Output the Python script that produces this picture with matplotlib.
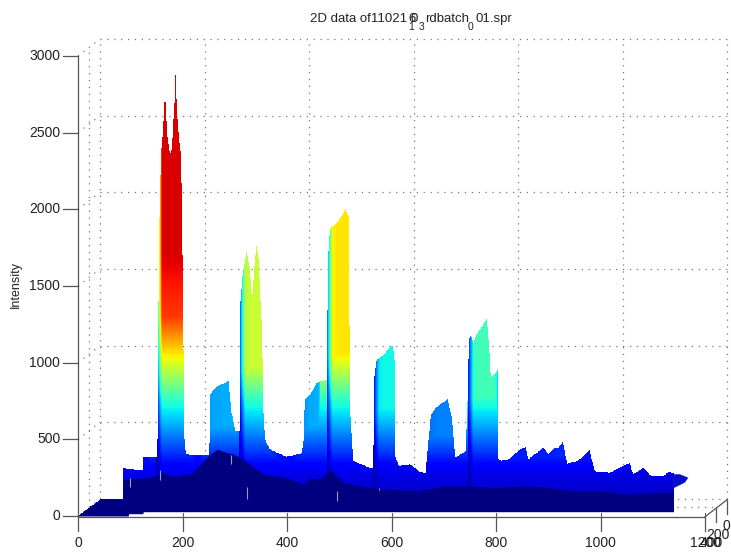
import numpy as np
import matplotlib
matplotlib.use("Agg")
import matplotlib.pyplot as plt

plt.rcParams['font.family'] = ['Liberation Sans', 'DejaVu Sans']

#top outline of the surface
top_x = [0, 43, 86, 87, 124, 125, 150, 152, 153, 155, 157, 159, 161, 165, 166.5, 168, 172, 176, 180, 184, 187, 189, 193, 197, 199, 201, 203, 204, 206,
         215, 250, 252, 253, 266, 275, 288, 294, 301, 309, 311, 316, 323, 329, 333, 341, 346, 352, 355, 358, 367, 399, 428, 432, 434, 447, 457, 476,
         478, 480, 484, 495, 505, 512, 518, 520, 521, 527, 558, 565, 567, 572, 585, 597, 603, 606, 607, 614, 636, 652, 665, 670, 675, 685, 707, 715, 722,
         742, 747, 748, 752, 757, 765, 772, 782, 787, 790, 795, 803, 805, 810, 825, 846, 857, 862, 891, 900, 913, 920, 928, 936, 957, 979, 989, 1018,
         1056, 1062, 1082, 1098, 1120, 1130, 1152, 1168, 1161.5, 1142, 1138]
top_h = [0, 109, 109, 309, 300, 387, 380, 500, 1000, 1800, 2100, 2350, 2450, 2650, 2800, 2650, 2450, 2360, 2400, 2650, 2920, 2650, 2480, 2350, 2000, 1400, 760, 500, 408,
         396, 396, 500, 793, 848, 858, 880, 674, 554, 554, 1400, 1600, 1730, 1600, 1400, 1770, 1670, 1210, 674, 500, 435, 387, 408, 500, 760, 804, 870, 890,
         1500, 1800, 1880, 1910, 1960, 2000, 1950, 1000, 674, 359, 315, 315, 900, 1020, 1050, 1100, 1110, 1000, 390, 326, 337, 293, 278, 456, 652, 707, 760, 652, 380,
         424, 891, 1150, 1180, 1130, 1200, 1230, 1285, 1100, 900, 920, 950, 370, 359, 370, 435, 450, 370, 446, 402, 446, 446, 483, 343, 359, 430, 293, 283,
         348, 272, 315, 257, 257, 287, 272, 250, 218, 185, 170]

#height of the dark front face
base_x = [0, 43, 87, 100, 151, 164, 176, 215, 253, 266, 297, 316, 355, 399, 431, 444, 463, 482, 508, 558, 600, 650, 700, 750, 800, 850, 900, 950, 1000, 1050, 1100, 1138]
base_h = [0, 109, 239, 239, 261, 283, 261, 272, 402, 435, 402, 370, 272, 250, 206, 250, 239, 304, 217, 185, 173, 163, 196, 196, 185, 196, 185, 163, 163, 141, 152, 152]

#lower edge of the surface
low_x = [0, 96, 97, 124, 125, 1138]
low_h = [0, 0, 15, 15, 28, 28]

#colour value seen at a given height
level_h = [0, 300, 450, 750, 1000, 1300, 1700]
level_v = [0.03, 0.1, 0.2, 0.4, 0.62, 0.85, 0.92]

#left sides of the tall peaks stay dark
edge_x = [152, 311, 478, 567, 748]

#small pale marks on the front face
mark_x = [100, 156, 293, 324, 495, 576]
mark_lo = [190, 235, 340, 109, 97, 170]
mark_hi = [245, 300, 400, 190, 160, 185]

xtick_vals = [0, 200, 400, 600, 800, 1000]
ytick_vals = [0, 500, 1000, 1500, 2000, 2500, 3000]

W, H = 731, 554
fig = plt.figure(figsize=(W/100, H/100), dpi=100)
ax = fig.add_axes([78/W, 1-516/H, 627/W, 460/H])
ax.set_xlim(0, 1200)
ax.set_ylim(0, 3000)
ax.axis('off')

#offset from the front of the box to the back wall
dx = 22/0.5225
dy = 17/0.1533
grid = dict(color='#777777', lw=0.9, ls=(0, (1, 4.5)), clip_on=False, zorder=1)

for v in ytick_vals:
    ax.plot([dx, 1200+dx], [v+dy, v+dy], **grid)
    ax.plot([0, dx], [v, v+dy], **grid)
for v in [0, 200, 400, 600, 800, 1000, 1200]:
    ax.plot([v+dx, v+dx], [dy, 3000+dy], **grid)
ax.plot([dx/2, dx/2], [dy/2, 3000+dy/2], **grid)
ax.plot([1200+dx/2-75, 1200+dx/2], [dy/2, dy/2], **grid)

#surface colours follow the height, capped by the highest top nearby
xs = np.arange(0, 1140, 0.5)
hs = np.arange(0, 3000, 4.0)
tops = np.interp(xs, top_x[:-3], top_h[:-3])
bases = np.interp(xs, base_x, base_h)
lows = np.interp(xs, low_x, low_h)
near = np.array([tops[max(i-30, 0):i+30].max() for i in range(len(xs))])
X, Y = np.meshgrid(xs, hs)
B = np.minimum(bases, tops)[None, :]
vals = np.minimum(np.interp(Y, level_h, level_v), (near/3000)[None, :])
shade = np.ones(len(xs))
for e in edge_x:
    left = (xs >= e-2) & (xs < e+9)
    shade[left] = 0.3+0.7*(xs[left]-e+2)/11
vals = vals*shade[None, :]
vals = np.ma.masked_where((Y > tops[None, :]) | (Y < lows[None, :]), vals)
ax.pcolormesh(X, Y, vals, cmap='jet', vmin=0, vmax=1, shading='nearest', rasterized=True, zorder=2)

#front face and the tail past the end of the base
ax.fill_between(xs, lows, np.minimum(bases, tops), color='#000080', lw=0, zorder=3)
ax.fill(top_x[-5:]+[top_x[-1]], top_h[-5:]+[top_h[-5]], color='#0a10c8', lw=0, zorder=2)
ax.vlines(mark_x, mark_lo, mark_hi, color='#8f9fc8', lw=0.8, zorder=4)

#axes
axis_c = '#555555'
txt = '#222222'
ax.plot([0, 0], [0, 3000], color=axis_c, lw=0.9, clip_on=False, zorder=5)
ax.plot([0, 1200], [-5, -5], color=axis_c, lw=0.9, clip_on=False, zorder=5)
ax.plot([1200, 1200+dx], [-5, dy-5], color=axis_c, lw=0.9, clip_on=False, zorder=5)
for v in xtick_vals+[1200]:
    ax.plot([v, v], [-95, -5], color=axis_c, lw=0.9, clip_on=False, zorder=5)
    ax.plot([v, v], [-5, 22], color=axis_c, lw=0.7, clip_on=False, zorder=5)
for v in ytick_vals:
    ax.plot([-29, 0], [v, v], color=axis_c, lw=0.9, clip_on=False, zorder=5)
    ax.text(-34, v, str(v), ha='right', va='center', fontsize=10, color=txt)
for v in xtick_vals:
    ax.text(v, -175, str(v), ha='center', va='center', fontsize=10, color=txt)
ax.plot([1200+dx/2]*2, [dy/2-5, dy/2-95], color=axis_c, lw=0.9, clip_on=False, zorder=5)
ax.plot([1200+dx]*2, [dy-5, dy-95], color=axis_c, lw=0.9, clip_on=False, zorder=5)

#the overlapping labels at the corner
ax.text(1200, -175, '1200', ha='center', va='center', fontsize=10, color=txt)
ax.text(1212, -175, '400', ha='center', va='center', fontsize=10, color=txt)
ax.text(1225, -125, '200', ha='center', va='center', fontsize=10, color=txt)
ax.text(1240, -65, '0', ha='center', va='center', fontsize=10, color=txt)

fig.text(16/W, 1-285/H, 'Intensity', rotation=90, ha='center', va='center', fontsize=9, color=txt)

#title, written in pieces since the subscripts overprint it
fig.text(310/W, 1-19/H, '2D data of11021', ha='left', va='center', fontsize=9.5, color=txt)
fig.text(412/W, 1-19/H, '6', ha='center', va='center', fontsize=9.5, color=txt)
fig.text(414/W, 1-19/H, '0', ha='center', va='center', fontsize=9.5, color=txt)
fig.text(425/W, 1-19/H, 'rdbatch', ha='left', va='center', fontsize=9.5, color=txt)
fig.text(475/W, 1-19/H, '01.spr', ha='left', va='center', fontsize=9.5, color=txt)
fig.text(411/W, 1-27/H, '1', ha='center', va='center', fontsize=7.5, color=txt)
fig.text(422/W, 1-27/H, '3', ha='center', va='center', fontsize=7.5, color=txt)
fig.text(471/W, 1-27/H, '0', ha='center', va='center', fontsize=7.5, color=txt)

fig.savefig('out.png', dpi=100)
